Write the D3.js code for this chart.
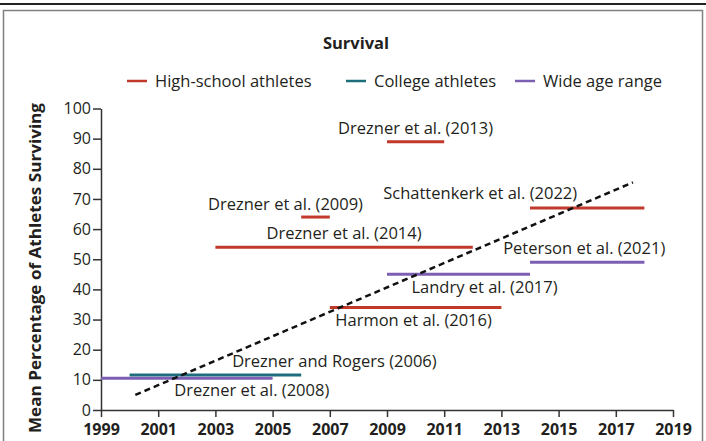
<!DOCTYPE html>
<html><head><meta charset="utf-8">
<script src="https://cdn.jsdelivr.net/npm/d3@7"></script>
<style>
body{margin:0;background:#fff}
svg text{font-family:"Open Sans", sans-serif; fill:#231f20}
</style>
</head><body><svg id="c" width="706" height="441"></svg>
<script>
// ---- data ----
const studies = ["Drezner et al. (2013)", "Drezner et al. (2009)", "Drezner et al. (2014)",
  "Schattenkerk et al. (2022)", "Peterson et al. (2021)", "Landry et al. (2017)",
  "Harmon et al. (2016)", "Drezner and Rogers (2006)", "Drezner et al. (2008)"];
const groups = ["High-school athletes", "High-school athletes", "High-school athletes",
  "High-school athletes", "Wide age range", "Wide age range",
  "High-school athletes", "College athletes", "Wide age range"];
const startYears = [2009, 2006, 2003, 2014, 2014, 2009, 2007, 2000, 1999];
const endYears   = [2011, 2007, 2012, 2018, 2018, 2014, 2013, 2006, 2005];
const survival   = [89, 64, 54, 67, 49, 45, 34, 11.6, 10.5];
const trendYears  = [2000.2, 2017.6];
const trendValues = [5, 75.5];
const legendLabels = ["High-school athletes", "College athletes", "Wide age range"];
const xTickValues = [1999, 2001, 2003, 2005, 2007, 2009, 2011, 2013, 2015, 2017, 2019];
const yTickValues = [0, 10, 20, 30, 40, 50, 60, 70, 80, 90, 100];

// ---- layout (label offsets from segment centre, px) ----
const labelOffsets = [[0,-8],[-30,-7],[0,-8],[-107,-9],[-3,-8],[26,18.5],[-2,19],[119,-8],[65,18]];
const colors = {"High-school athletes":"#c0392b","College athletes":"#1f6e7e","Wide age range":"#7c5fb3"};

const svg = d3.select("#c");
// frame
svg.append("rect").attr("x",0).attr("y",3).attr("width",706).attr("height",2).attr("fill","#222");
svg.append("rect").attr("x",3.5).attr("y",10.5).attr("width",699).attr("height",440)
  .attr("fill","none").attr("stroke","#808080").attr("stroke-width",1.5);

const x = d3.scaleLinear().domain([1999, 2019]).range([101, 673]);
const y = d3.scaleLinear().domain([0, 100]).range([410, 108.5]);

// title
svg.append("text").attr("x",356).attr("y",49).attr("text-anchor","middle")
  .style("font-weight","bold").style("font-size","16.5px").text("Survival");

// legend
const legendX = [127, 346, 515];
legendLabels.forEach((l,i)=>{
  svg.append("line").attr("x1",legendX[i]).attr("x2",legendX[i]+20).attr("y1",81).attr("y2",81)
    .attr("stroke",colors[l]).attr("stroke-width",2.5);
  svg.append("text").attr("x",legendX[i]+28).attr("y",87).style("font-size","16.5px").text(l);
});

// axes
const gy = svg.append("g").attr("transform","translate(101,0)")
  .call(d3.axisLeft(y).tickValues(yTickValues).tickSize(8).tickSizeOuter(0).tickPadding(2));
const gx = svg.append("g").attr("transform","translate(0,410)")
  .call(d3.axisBottom(x).tickValues(xTickValues).tickFormat(d3.format("d")).tickSize(7).tickSizeOuter(0).tickPadding(7));
[gx, gy].forEach(g=>{
  g.select(".domain").attr("stroke","#333").attr("stroke-width",1.5);
  g.selectAll(".tick line").attr("stroke","#333").attr("stroke-width",1.5);
  g.selectAll(".tick text").attr("fill","#231f20").style("font-family","'Open Sans', sans-serif");
});
gy.selectAll(".tick text").style("font-size","16px");
gx.selectAll(".tick text").style("font-size","16px").style("font-weight","bold");

// y label
svg.append("text").attr("transform","translate(41,268) rotate(-90)").attr("text-anchor","middle")
  .style("font-weight","bold").style("font-size","16.5px")
  .attr("textLength",330).attr("lengthAdjust","spacingAndGlyphs")
  .text("Mean Percentage of Athletes Surviving");

// segments
const segs = studies.map((s,i)=>({name:s, group:groups[i], x0:startYears[i], x1:endYears[i], v:survival[i], off:labelOffsets[i]}));
svg.append("g").selectAll("line").data(segs).join("line")
  .attr("x1",d=>x(d.x0)).attr("x2",d=>x(d.x1)).attr("y1",d=>y(d.v)).attr("y2",d=>y(d.v))
  .attr("stroke",d=>colors[d.group]).attr("stroke-width",3);

// trend line
svg.append("path").datum(trendYears.map((t,i)=>[t,trendValues[i]]))
  .attr("d", d3.line().x(d=>x(d[0])).y(d=>y(d[1])))
  .attr("fill","none").attr("stroke","#111").attr("stroke-width",2.5).attr("stroke-dasharray","6,4");

// labels
svg.append("g").selectAll("text").data(segs).join("text")
  .attr("x",d=>(x(d.x0)+x(d.x1))/2 + d.off[0]).attr("y",d=>y(d.v)+d.off[1])
  .attr("text-anchor","middle").style("font-size","16.5px").text(d=>d.name);
</script></body></html>
